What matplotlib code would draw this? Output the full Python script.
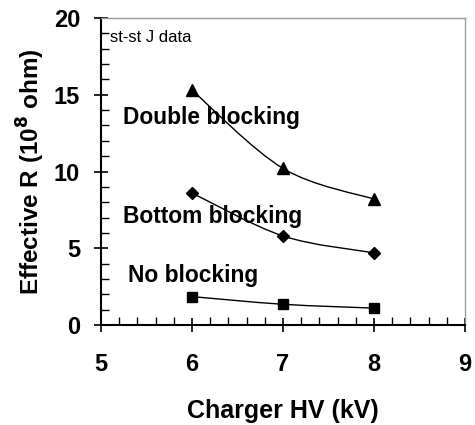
import numpy as np
import matplotlib.pyplot as plt
from matplotlib.path import Path
from matplotlib.patches import PathPatch
from matplotlib.ticker import MultipleLocator

plt.rc('font', family=['Liberation Sans', 'DejaVu Sans'])

hv = [6, 7, 8]
double_blocking = [15.3, 10.2, 8.2]
bottom_blocking = [8.6, 5.8, 4.7]
no_blocking = [1.85, 1.35, 1.1]


def smooth_path(x, y):
    # Excel-style smoothed line: Bezier segments with Catmull-Rom handles
    x = np.asarray(x, float)
    y = np.asarray(y, float)
    n = len(x)
    verts = [(x[0], y[0])]
    codes = [Path.MOVETO]
    for i in range(n - 1):
        x0, y0 = (x[i - 1], y[i - 1]) if i > 0 else (x[i], y[i])
        x3, y3 = (x[i + 2], y[i + 2]) if i + 2 < n else (x[i + 1], y[i + 1])
        c1 = (x[i] + (x[i + 1] - x0) / 6, y[i] + (y[i + 1] - y0) / 6)
        c2 = (x[i + 1] - (x3 - x[i]) / 6, y[i + 1] - (y3 - y[i]) / 6)
        verts += [c1, c2, (x[i + 1], y[i + 1])]
        codes += [Path.CURVE4] * 3
    return Path(verts, codes)


fig = plt.figure(figsize=(4.75, 4.25), dpi=100)
ax = fig.add_axes([0.2126, 0.2353, 0.7664, 0.7223])

for vals, mk, ms in [(double_blocking, '^', 9), (bottom_blocking, 'D', 6.5),
                     (no_blocking, 's', 7)]:
    ax.add_patch(PathPatch(smooth_path(hv, vals), fill=False, ec='black', lw=1))
    ax.plot(hv, vals, ls='none', marker=mk, ms=ms, color='black', zorder=3)

ax.set_xlim(5, 9)
ax.set_ylim(0, 20)
ax.xaxis.set_major_locator(MultipleLocator(1))
ax.xaxis.set_minor_locator(MultipleLocator(0.2))
ax.yaxis.set_major_locator(MultipleLocator(5))
ax.yaxis.set_minor_locator(MultipleLocator(1))
ax.tick_params(which='major', direction='inout', length=10, width=1.2,
               labelsize=17)
ax.tick_params(axis='x', which='major', pad=15)
ax.tick_params(axis='y', which='major', pad=10)
ax.tick_params(which='minor', direction='in', length=6, width=1)
for lab in ax.get_xticklabels() + ax.get_yticklabels():
    lab.set_fontweight('bold')

for s in ['left', 'bottom']:
    ax.spines[s].set_linewidth(1.5)
for s in ['top', 'right']:
    ax.spines[s].set_color('#999999')
    ax.spines[s].set_linewidth(1)

ax.text(5.1, 18.75, 'st-st J data', fontsize=12, va='center')
ax.text(5.24, 13.5, 'Double blocking', fontsize=16.4, fontweight='bold', va='center')
ax.text(5.24, 7.05, 'Bottom blocking', fontsize=16.4, fontweight='bold', va='center')
ax.text(5.3, 3.25, 'No blocking', fontsize=16.4, fontweight='bold', va='center')

ax.set_xlabel('Charger HV (kV)', fontsize=18, fontweight='bold', labelpad=17)
ax.set_ylabel('Effective R (10$^{\\mathbf{8}}$ ohm)', fontsize=17.5,
              fontweight='bold', labelpad=5)

fig.savefig('out.png', dpi=100)
